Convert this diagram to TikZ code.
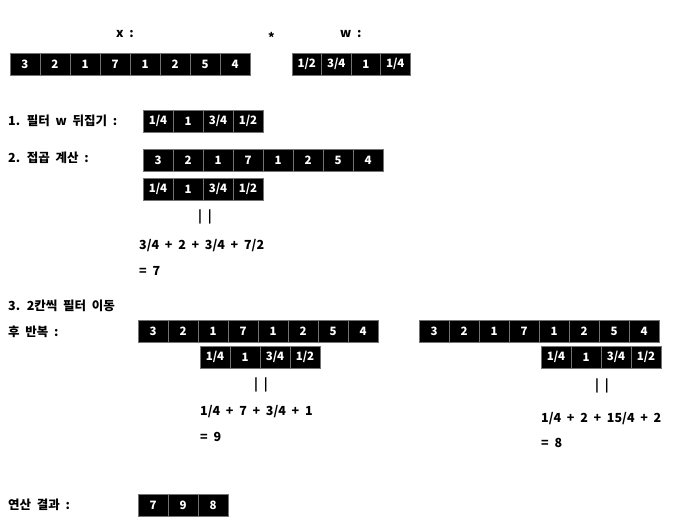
\documentclass[tikz,border=0pt]{standalone}
\usepackage{fontspec}
\setmainfont{Noto Sans CJK KR}[WordSpace=2.0]
\begin{document}
\begin{tikzpicture}[x=1pt,y=-1pt,
  cell/.style={draw=black!55, line width=0.7pt, fill=black, text=white,
    minimum width=30pt, minimum height=22pt, inner sep=0pt, outer sep=0pt,
    font=\fontsize{11.5}{11.5}\selectfont\bfseries},
  lbl/.style={anchor=west, inner sep=0pt, font=\fontsize{12.5}{12.5}\selectfont\bfseries},
  txt/.style={anchor=west, inner sep=0pt, font=\fontsize{12.5}{12.5}\selectfont\bfseries}]
\path[use as bounding box] (0,0) rectangle (676,522);
% row macro: name prefix, x0, ycenter, list
\newcommand{\cellrow}[4]{%
  \foreach \v [count=\i] in {#4} {%
    \node[cell] (#1\i) at ({#2+15+30*(\i-1)},#3) {\v};
  }}
% top
\node[lbl] (xl) at (116,34) {x :};
\node[lbl] (star) at (268,37) {*};
\node[lbl] (wl) at (340,34) {w :};
\cellrow{x}{10}{64}{3,2,1,7,1,2,5,4}
\foreach \v [count=\i] in {1/2,3/4,1,1/4} {%
  \node[cell, minimum width=29.5pt] (w\i) at ({292+14.75+29.5*(\i-1)},64) {\v};
}
% step 1
\node[lbl] (s1) at (8,121) {1. 필터 w 뒤집기 :};
\cellrow{fa}{143}{121}{1/4,1,3/4,1/2}
% step 2
\node[lbl] (s2) at (8,158) {2. 접곱 계산 :};
\cellrow{xb}{143}{160}{3,2,1,7,1,2,5,4}
\cellrow{fb}{143}{189}{1/4,1,3/4,1/2}
\node[txt] (eqb) at (198,217) {| |};
\node[txt] (sumb) at (139,246) {3/4 + 2 + 3/4 + 7/2};
\node[txt] (resb) at (139,271) {= 7};
% step 3
\node[lbl] (s3) at (8,306) {3. 2칸씩 필터 이동};
\node[lbl] (s3b) at (8,332) {후 반복 :};
\cellrow{xc}{138}{331}{3,2,1,7,1,2,5,4}
\cellrow{fc}{200}{357}{1/4,1,3/4,1/2}
\node[txt] (eqc) at (254,385) {| |};
\node[txt] (sumc) at (200,412) {1/4 + 7 + 3/4 + 1};
\node[txt] (resc) at (200,437) {= 9};
\cellrow{xd}{419}{331}{3,2,1,7,1,2,5,4}
\cellrow{fd}{541}{357}{1/4,1,3/4,1/2}
\node[txt] (eqd) at (595,386) {| |};
\node[txt] (sumd) at (541,419) {1/4 + 2 + 15/4 + 2};
\node[txt] (resd) at (541,443) {= 8};
% result
\node[lbl] (rl) at (8,505) {연산 결과 :};
\cellrow{r}{138}{505}{7,9,8}
\end{tikzpicture}
\end{document}
